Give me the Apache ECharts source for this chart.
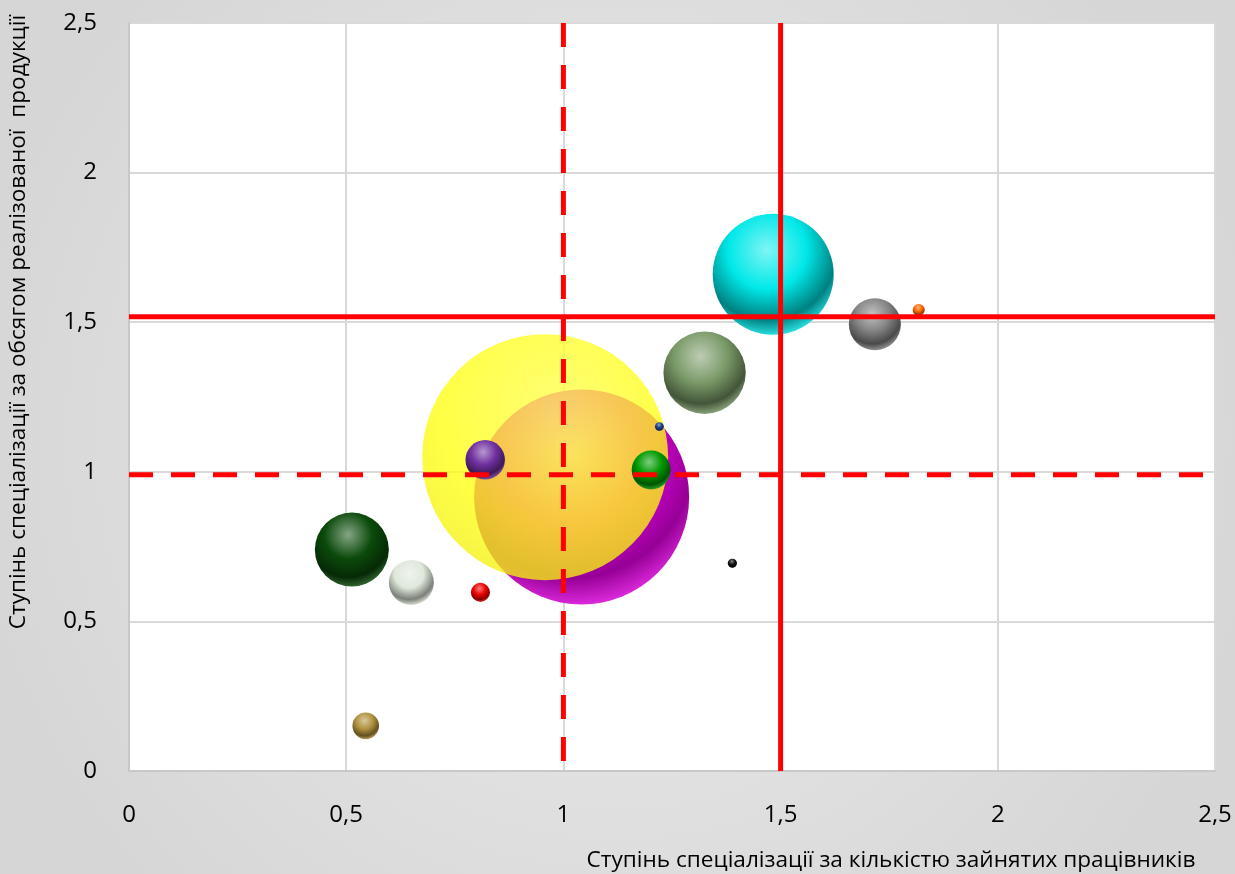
<!DOCTYPE html>
<html>
<head>
<meta charset="utf-8">
<script src="https://cdn.jsdelivr.net/npm/echarts@6/dist/echarts.min.js"></script>
<style>
html,body{margin:0;padding:0;}
#c{width:1235px;height:874px;}
</style>
</head>
<body>
<div id="c"></div>
<script>
// ---- data ----
const xValues = [1.042, 0.958, 1.483, 1.325, 1.717, 1.818, 0.513, 0.650, 0.809, 0.545, 0.820, 1.202, 1.221, 1.389];
const yValues = [0.916, 1.049, 1.660, 1.331, 1.493, 1.541, 0.740, 0.630, 0.597, 0.151, 1.040, 1.006, 1.151, 0.694];
const bubbleSizes = [76.4, 100, 24.2, 11.2, 4.47, 0.24, 9.05, 3.35, 0.60, 1.17, 2.57, 2.51, 0.13, 0.14];
const xTickValues = [0, 0.5, 1, 1.5, 2, 2.5];
const yTickValues = [0, 0.5, 1, 1.5, 2, 2.5];
const vSolidX = [1.5, 1.5];
const vSolidY = [2.5, 0];
const hSolidX = [0, 2.5];
const hSolidY = [1.518, 1.518];
const vDashX = [1, 1];
const vDashY = [2.5, 0];
const hDashX = [0, 2.5];
const hDashY = [0.99, 0.99];
const xTitle = 'Ступінь спеціалізації за кількістю зайнятих працівників';
const yTitle = 'Ступінь спеціалізації за обсягом реалізованої  продукції';

// ---- styles ----
const bubbleColors = ['#dd00dd', '#ffff10', '#00e8e8', '#7a9a68', '#858585', '#ff6a00', '#0b4a0b', '#dfe8db', '#ee0000', '#b0923e', '#7030a0', '#009a00', '#1f3f8f', '#111111'];
const bubbleOpacity = [1, 0.78, 1, 1, 1, 1, 1, 1, 1, 1, 1, 1, 1, 1];
const darkness = [0.32, 0, 0.45, 0.45, 0.45, 0.45, 0.45, 0.45, 0.45, 0.45, 0.45, 0.45, 0.45, 0.45];

function hexToRgb(h){h=h.replace('#','');return [parseInt(h.substr(0,2),16),parseInt(h.substr(2,2),16),parseInt(h.substr(4,2),16)];}
function mix(a,b,t){const A=hexToRgb(a),B=hexToRgb(b);return 'rgb('+A.map((v,i)=>Math.round(v+(B[i]-v)*t)).join(',')+')';}
function sphere(c, flat, dk){
  if(flat){
    return {type:'radial',x:0.55,y:0.3,r:0.8,colorStops:[
      {offset:0,color:mix(c,'#ffffff',0.25)},
      {offset:0.6,color:c},
      {offset:1,color:mix(c,'#806000',0.12)}]};
  }
  return {type:'radial',x:0.45,y:0.3,r:0.72,colorStops:[
    {offset:0,color:mix(c,'#ffffff',0.5)},
    {offset:0.45,color:c},
    {offset:0.8,color:mix(c,'#000000',dk)},
    {offset:1,color:mix(c,'#ffffff',0.18)}]};
}

const maxSize = Math.max(...bubbleSizes);
const maxDiameter = 246;
const bubbleData = xValues.map((x,i)=>({
  value:[x, yValues[i], bubbleSizes[i]],
  itemStyle:{color: sphere(bubbleColors[i], i===1, darkness[i]), opacity: bubbleOpacity[i]}
}));
const fmt = v => String(v).replace('.', ',');
const pairs = (xs, ys) => xs.map((x,i)=>[x, ys[i]]);

const chart = echarts.init(document.getElementById('c'), null, {renderer:'canvas'});
chart.setOption({
  animation:false,
  backgroundColor:{type:'radial',x:0.5,y:0.5,r:0.75,colorStops:[{offset:0,color:'#ececec'},{offset:1,color:'#d6d6d6'}]},
  textStyle:{fontFamily:'Open Sans'},
  grid:{left:129,right:20,top:23,bottom:103,show:true,backgroundColor:'#ffffff',borderColor:'#d4d4d4',borderWidth:1},
  xAxis:{type:'value',min:0,max:2.5,interval:0.5,
    axisLine:{show:true,lineStyle:{color:'#c8c8c8',width:2}},
    axisTick:{show:false},
    splitLine:{show:true,lineStyle:{color:'#d9d9d9',width:2}},
    axisLabel:{margin:32,fontSize:24,color:'#000',fontFamily:'Open Sans',
      formatter:v=>xTickValues.includes(+v.toFixed(2))?fmt(v):''}},
  yAxis:{type:'value',min:0,max:2.5,interval:0.5,
    axisLine:{show:true,lineStyle:{color:'#c8c8c8',width:2}},
    axisTick:{show:false},
    splitLine:{show:true,lineStyle:{color:'#d9d9d9',width:2}},
    axisLabel:{margin:32,fontSize:24,color:'#000',fontFamily:'Open Sans',
      formatter:v=>yTickValues.includes(+v.toFixed(2))?fmt(v):''}},
  graphic:[
    {type:'text',x:891,y:861,style:{text:xTitle,font:'22.6px "Open Sans"',fill:'#000',textAlign:'center',textVerticalAlign:'middle'}},
    {type:'text',x:19,y:322,rotation:Math.PI/2,style:{text:yTitle,font:'22.6px "Open Sans"',fill:'#000',textAlign:'center',textVerticalAlign:'middle'}}
  ],
  series:[
    {type:'scatter',data:bubbleData,z:2,
      symbolSize:v=>maxDiameter*Math.sqrt(v[2]/maxSize),
      itemStyle:{borderWidth:0}},
    {type:'line',data:pairs(vSolidX,vSolidY),symbol:'none',z:5,lineStyle:{color:'#ff0000',width:5}},
    {type:'line',data:pairs(hSolidX,hSolidY),symbol:'none',z:5,lineStyle:{color:'#ff0000',width:5}},
    {type:'line',data:pairs(vDashX,vDashY),symbol:'none',z:5,lineStyle:{color:'#ff0000',width:5,type:[24,18],cap:'butt'}},
    {type:'line',data:pairs(hDashX,hDashY),symbol:'none',z:5,lineStyle:{color:'#ff0000',width:5,type:[24,18],cap:'butt'}}
  ]
});
</script>
</body>
</html>
